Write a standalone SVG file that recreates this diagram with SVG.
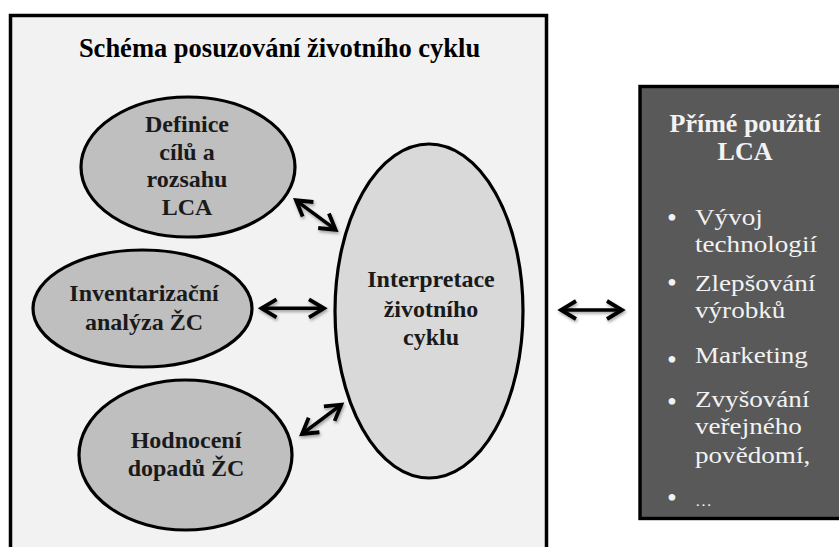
<svg xmlns="http://www.w3.org/2000/svg" width="839" height="547" viewBox="0 0 839 547">
  <style>
    .frame { fill: #f2f2f2; stroke: #000; stroke-width: 3.5; }
    .node { stroke: #000; stroke-width: 3.2; }
    .dark { fill: #bfbfbf; }
    .light { fill: #d9d9d9; }
    .lbl { font-family: "Liberation Serif", serif; font-weight: bold; font-size: 24px; fill: #1a1a1a; text-anchor: middle; }
    .title { font-family: "Liberation Serif", serif; font-weight: bold; font-size: 26.5px; fill: #000; text-anchor: middle; }
    .usebox { fill: #595959; stroke: #000; stroke-width: 3.4; }
    .usetitle { font-family: "Liberation Serif", serif; font-weight: bold; font-size: 26px; fill: #f2f2f2; text-anchor: middle; }
    .item { font-family: "Liberation Serif", serif; font-size: 24px; fill: #f2f2f2; }
    .bullet { font-family: "Liberation Serif", serif; font-size: 28px; fill: #f2f2f2; text-anchor: middle; }
    .conn { stroke: #000; stroke-width: 3.5; fill: none; marker-start: url(#ah); marker-end: url(#ah); }
  </style>
  <defs>
    <marker id="ah" markerUnits="userSpaceOnUse" markerWidth="30" markerHeight="30" viewBox="-22 -15 30 30" refX="0" refY="0" orient="auto-start-reverse" overflow="visible">
      <path d="M-15,-9 L0,0 L-15,9" fill="none" stroke="#000" stroke-width="3.8" stroke-linejoin="miter"/>
    </marker>
    <filter id="sh" x="-30%" y="-30%" width="160%" height="160%">
      <feDropShadow dx="1" dy="2" stdDeviation="1.5" flood-color="#000" flood-opacity="0.35"/>
    </filter>
  </defs>

  <g id="frame">
    <rect class="frame" x="10.5" y="15.5" width="536" height="600"/>
    <text class="title" x="279.5" y="57">Schéma posuzování životního cyklu</text>
  </g>

  <g id="definice">
    <ellipse class="node dark" cx="188" cy="167" rx="107" ry="70"/>
    <text class="lbl" x="187" y="132">Definice</text>
    <text class="lbl" x="187" y="160">cílů a</text>
    <text class="lbl" x="187" y="187">rozsahu</text>
    <text class="lbl" x="187" y="215">LCA</text>
  </g>

  <g id="inventarizace">
    <ellipse class="node dark" cx="142.5" cy="308.5" rx="109.5" ry="58.5"/>
    <text class="lbl" x="144" y="301">Inventarizační</text>
    <text class="lbl" x="144" y="330">analýza ŽC</text>
  </g>

  <g id="hodnoceni">
    <ellipse class="node dark" cx="185.5" cy="455" rx="106.5" ry="75"/>
    <text class="lbl" x="186" y="448">Hodnocení</text>
    <text class="lbl" x="186" y="476">dopadů ŽC</text>
  </g>

  <g id="interpretace">
    <ellipse class="node light" cx="429" cy="311" rx="94" ry="167"/>
    <text class="lbl" x="431" y="287">Interpretace</text>
    <text class="lbl" x="431" y="317">životního</text>
    <text class="lbl" x="431" y="345">cyklu</text>
  </g>

  <g id="pouziti">
    <rect class="usebox" x="640" y="86.5" width="230" height="432"/>
    <text class="usetitle" x="745" y="132">Přímé použití</text>
    <text class="usetitle" x="745" y="160">LCA</text>
    <text class="bullet" x="672" y="227">•</text>
    <text class="bullet" x="672" y="292">•</text>
    <text class="bullet" x="672" y="369">•</text>
    <text class="bullet" x="672" y="411">•</text>
    <text class="bullet" x="672" y="507">•</text>
    <g transform="translate(695 0) scale(1.13 1)">
      <text class="item" x="0" y="225">Vývoj</text>
      <text class="item" x="0" y="252">technologií</text>
      <text class="item" x="0" y="291">Zlepšování</text>
      <text class="item" x="0" y="318">výrobků</text>
      <text class="item" x="0" y="363">Marketing</text>
      <text class="item" x="0" y="407">Zvyšování</text>
      <text class="item" x="0" y="434">veřejného</text>
      <text class="item" x="0" y="463">povědomí,</text>
      <text class="item" x="0" y="506" style="font-size:15px">…</text>
    </g>
  </g>

  <g id="connectors" filter="url(#sh)">
    <line class="conn" x1="296" y1="200.3" x2="335.6" y2="229.7"/>
    <line class="conn" x1="261.5" y1="308.3" x2="324" y2="308.3"/>
    <line class="conn" x1="302" y1="434" x2="341.3" y2="404.7"/>
    <line class="conn" x1="561" y1="310" x2="622" y2="310"/>
  </g>
</svg>
